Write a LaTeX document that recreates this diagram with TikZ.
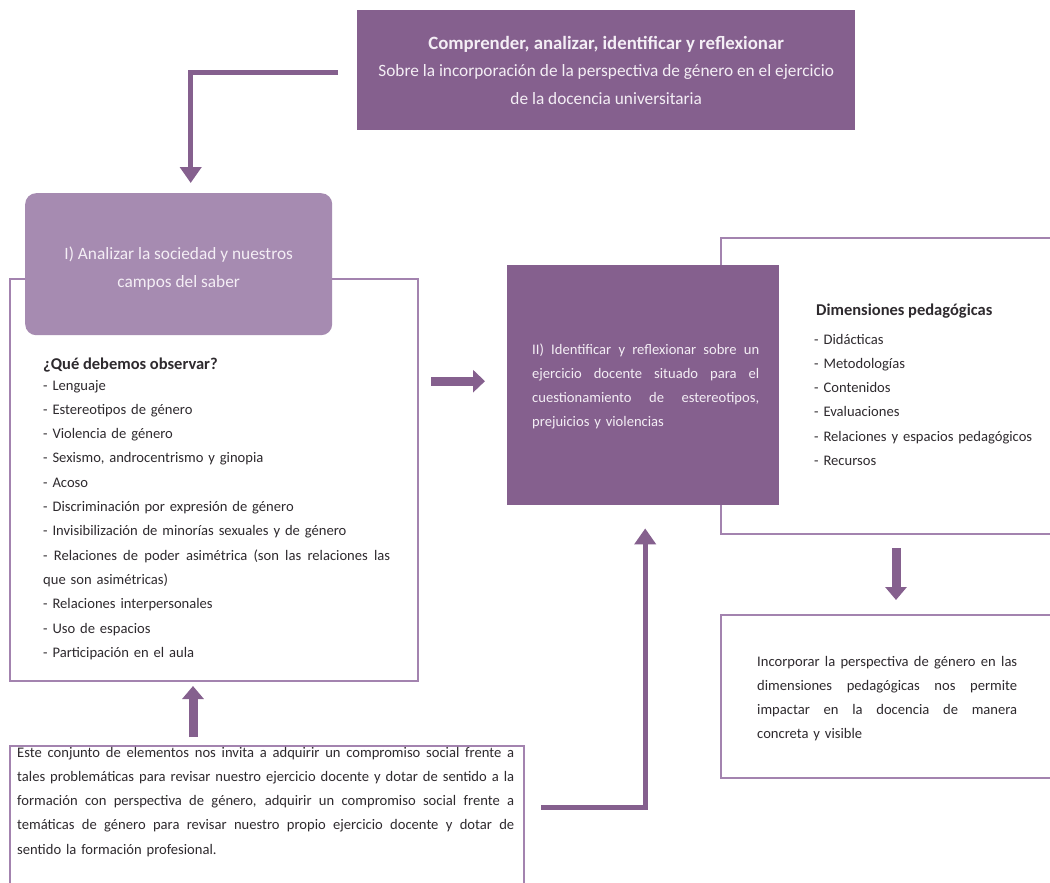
\documentclass[tikz,border=0pt]{standalone}
\usepackage{fontspec}
\setmainfont{Carlito}
\usetikzlibrary{arrows.meta,calc}
\definecolor{plum}{HTML}{85608E}
\definecolor{lilac}{HTML}{A68BB1}
\definecolor{frameline}{HTML}{A383AF}
\definecolor{ink}{HTML}{2E2A2E}
\definecolor{paleink}{HTML}{F4EEF5}
% a line stretched to a given width (justified line)
\newcommand{\jl}[2]{\leavevmode\hbox to #1{\spaceskip=0.22em plus 1em minus 0.06em\relax #2}}
% bold headings inside the frames
\newcommand{\framehead}[1]{{\fontsize{16.5}{24.3}\selectfont\bfseries #1}}

\begin{document}
\begin{tikzpicture}[x=1pt,y=-1pt,
  solidbox/.style={fill=plum, draw=none, inner sep=0pt, anchor=north west, text=paleink},
  softbox/.style={fill=lilac, draw=none, rounded corners=11pt, inner sep=0pt, anchor=north west, text=paleink},
  framebox/.style={draw=frameline, line width=2pt, fill=none, inner sep=0pt, anchor=north west},
  headfont/.style={font=\fontsize{17.3}{27.5}\selectfont},
  bodyfont/.style={font=\fontsize{14.6}{24.3}\selectfont},
  bodytext/.style={bodyfont, text=ink, inner sep=0pt, anchor=base west, align=left},
  thinarrow/.style={draw=plum, line width=5pt, -{Triangle[width=21pt,length=16pt]}},
  blockarrow/.style={draw=plum, line width=9pt, -{Triangle[width=21pt,length=13pt]}}
]
\useasboundingbox (0,0) rectangle (1050,883);
\fill[white] (0,0) rectangle (1050,883);
\clip (0,0) rectangle (1050,883);

% outlined frames (drawn first so the solid boxes sit on top of them)
\node[framebox, minimum width=408pt, minimum height=402pt] (obsframe) at (9,278) {};
\node[framebox, minimum width=350pt, minimum height=296pt] (dimframe) at (720,237) {};
\node[framebox, minimum width=350pt, minimum height=163pt] (conclusion) at (720,614) {};
\node[framebox, minimum width=514pt, minimum height=160pt] (compromiso) at (9,745) {};

% solid boxes
\node[solidbox, headfont, align=center, minimum width=498pt, minimum height=120pt] (goal) at (357,10)
  {{\fontsize{18.8}{27.5}\selectfont\bfseries Comprender, analizar, identificar y reflexionar}\\
   Sobre la incorporación de la perspectiva de género en el ejercicio\\
   de la docencia universitaria};
\node[softbox, headfont, align=center, minimum width=307pt, minimum height=142pt] (analizar) at (25,193)
  {\\[-6pt]I) Analizar la sociedad y nuestros\\campos del saber};
\node[solidbox, minimum width=272pt, minimum height=240pt] (midbox) at (507,265) {};
\node[bodytext, text=paleink, text width=227pt] (midtext) at (532,354)
  {\jl{227pt}{II) Identificar y reflexionar sobre un}\\
   \jl{227pt}{ejercicio docente situado para el}\\
   \jl{227pt}{cuestionamiento de estereotipos,}\\
   prejuicios y violencias};

% texts inside the frames
\node[bodytext] (obshead) at (43,369) {\framehead{¿Qué debemos observar?}};
\node[bodytext, text width=347pt] (obslist) at (43,390)
  {- Lenguaje\\
   - Estereotipos de género\\
   - Violencia de género\\
   - Sexismo, androcentrismo y ginopia\\
   - Acoso\\
   - Discriminación por expresión de género\\
   - Invisibilización de minorías sexuales y de género\\
   \jl{347pt}{- Relaciones de poder asimétrica (son las relaciones las}\\
   que son asimétricas)\\
   - Relaciones interpersonales\\
   - Uso de espacios\\
   - Participación en el aula};

\node[bodytext] (dimhead) at (816,315) {\framehead{Dimensiones pedagógicas}};
\node[bodytext, text width=230pt] (dimlist) at (814,344)
  {- Didácticas\\
   - Metodologías\\
   - Contenidos\\
   - Evaluaciones\\
   - Relaciones y espacios pedagógicos\\
   - Recursos};

\node[bodytext, text width=260pt] (conctext) at (757,666)
  {\jl{260pt}{Incorporar la perspectiva de género en las}\\
   \jl{260pt}{dimensiones pedagógicas nos permite}\\
   \jl{260pt}{impactar en la docencia de manera}\\
   concreta y visible};

\node[bodytext, text width=497pt] (comptext) at (17,757)
  {\jl{497pt}{Este conjunto de elementos nos invita a adquirir un compromiso social frente a}\\
   \jl{497pt}{tales problemáticas para revisar nuestro ejercicio docente y dotar de sentido a la}\\
   \jl{497pt}{formación con perspectiva de género, adquirir un compromiso social frente a}\\
   \jl{497pt}{temáticas de género para revisar nuestro propio ejercicio docente y dotar de}\\
   sentido la formación profesional.};

% connectors
\coordinate (dcol) at (896,0);
\coordinate (ucol) at (193,0);
\coordinate (lrow) at (0,807);

\draw[thinarrow] ($(goal.west)+(-19,2)$) -| ($(analizar.north)+(12,-10)$);
\draw[blockarrow, -{Triangle[width=22pt,length=12pt]}] ($(obsframe.east |- midbox.west)+(12,-4)$) -- ($(midbox.west)+(-22,-4)$);
\draw[blockarrow] ($(dimframe.south -| dcol)+(0,13)$) -- ($(conclusion.north -| dcol)+(0,-14)$);
\draw[blockarrow] ($(compromiso.north -| ucol)+(0,-8)$) -- ($(obsframe.south -| ucol)+(0,4)$);
\draw[thinarrow] ($(compromiso.east |- lrow)+(16,0)$) -| ($(midbox.south)+(2,23)$);
\end{tikzpicture}
\end{document}
